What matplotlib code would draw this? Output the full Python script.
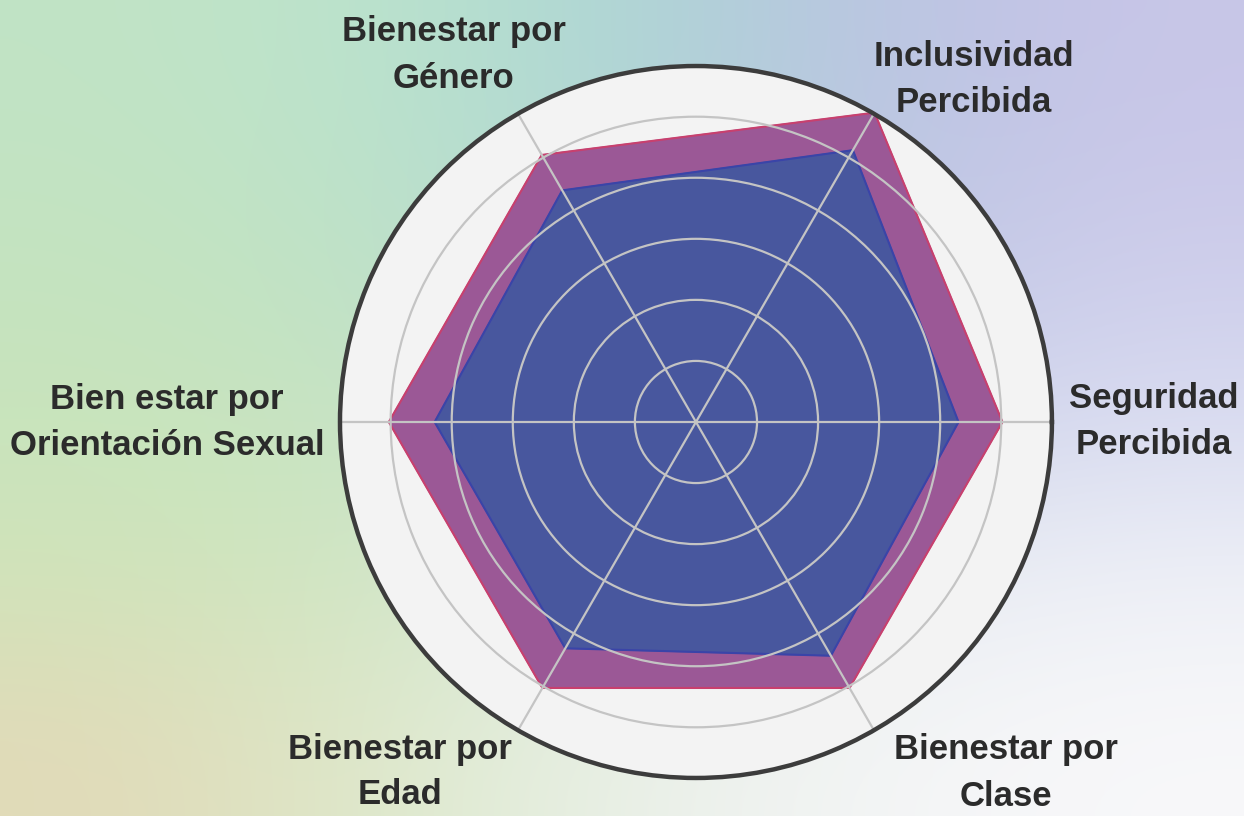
import numpy as np
import matplotlib
matplotlib.use("Agg")
import matplotlib.pyplot as plt

# radar data
categories = ["Seguridad\nPercibida", "Inclusividad\nPercibida", "Bienestar por\nGénero",
              "Bien estar por\nOrientación Sexual", "Bienestar por\nEdad", "Bienestar por\nClase"]
serie_rosa = [5.02, 5.85, 5.05, 5.03, 5.03, 5.03]
serie_azul = [4.30, 5.14, 4.38, 4.28, 4.28, 4.42]
r_ticks = [1, 2, 3, 4, 5]
r_max = 5.83

fig = plt.figure(figsize=(12.44, 8.16), dpi=100)

# background gradient
bg = np.array([
    [(193, 227, 197), (188, 228, 205), (172, 214, 212), (186, 196, 226), (200, 198, 232)],
    [(196, 228, 192), (190, 226, 200), (180, 215, 215), (190, 198, 228), (205, 204, 234)],
    [(200, 228, 188), (198, 228, 195), (200, 220, 215), (205, 210, 235), (215, 218, 240)],
    [(208, 228, 186), (208, 230, 195), (220, 232, 225), (232, 236, 242), (238, 240, 246)],
    [(226, 218, 184), (220, 233, 202), (234, 240, 232), (244, 245, 246), (248, 248, 250)],
]) / 255.0
ax_bg = fig.add_axes([0, 0, 1, 1])
ax_bg.imshow(bg, extent=[0, 1, 0, 1], aspect="auto", interpolation="bicubic", origin="upper")
ax_bg.axis("off")

ax = fig.add_axes([0.2733, 0.0466, 0.5723, 0.8725], projection="polar")
ax.set_facecolor("#f3f3f3")

angles = np.linspace(0, 2 * np.pi, len(categories), endpoint=False)
ang_c = np.concatenate([angles, angles[:1]])
rosa = np.concatenate([serie_rosa, serie_rosa[:1]])
azul = np.concatenate([serie_azul, serie_azul[:1]])

ax.fill(ang_c, rosa, color="#9b5896", zorder=1)
ax.plot(ang_c, rosa, color="#c8406e", lw=1.5, zorder=1.2)
ax.fill(ang_c, azul, color="#48579e", zorder=1.3)
ax.plot(ang_c, azul, color="#3a44a8", lw=1.5, zorder=1.35)

ax.set_ylim(0, r_max)
ax.set_yticks(r_ticks)
ax.set_yticklabels([])
ax.set_xticks(angles)
ax.set_xticklabels([])
ax.grid(color="#c4c4c4", lw=1.6)
ax.spines["polar"].set_color("#3c3c3c")
ax.spines["polar"].set_linewidth(3.2)

# category labels placed around the circle
label_pos = [(1154, 421), (974, 79), (454, 55), (167, 422), (400, 772), (1006, 773)]
for txt, (px, py) in zip(categories, label_pos):
    fig.text(px / 1244, 1 - py / 816, txt, ha="center", va="center", multialignment="center",
             fontsize=25, fontweight="bold", family="Liberation Sans", color="#2b2b2b",
             linespacing=1.5)

fig.savefig("out.png", dpi=100)
